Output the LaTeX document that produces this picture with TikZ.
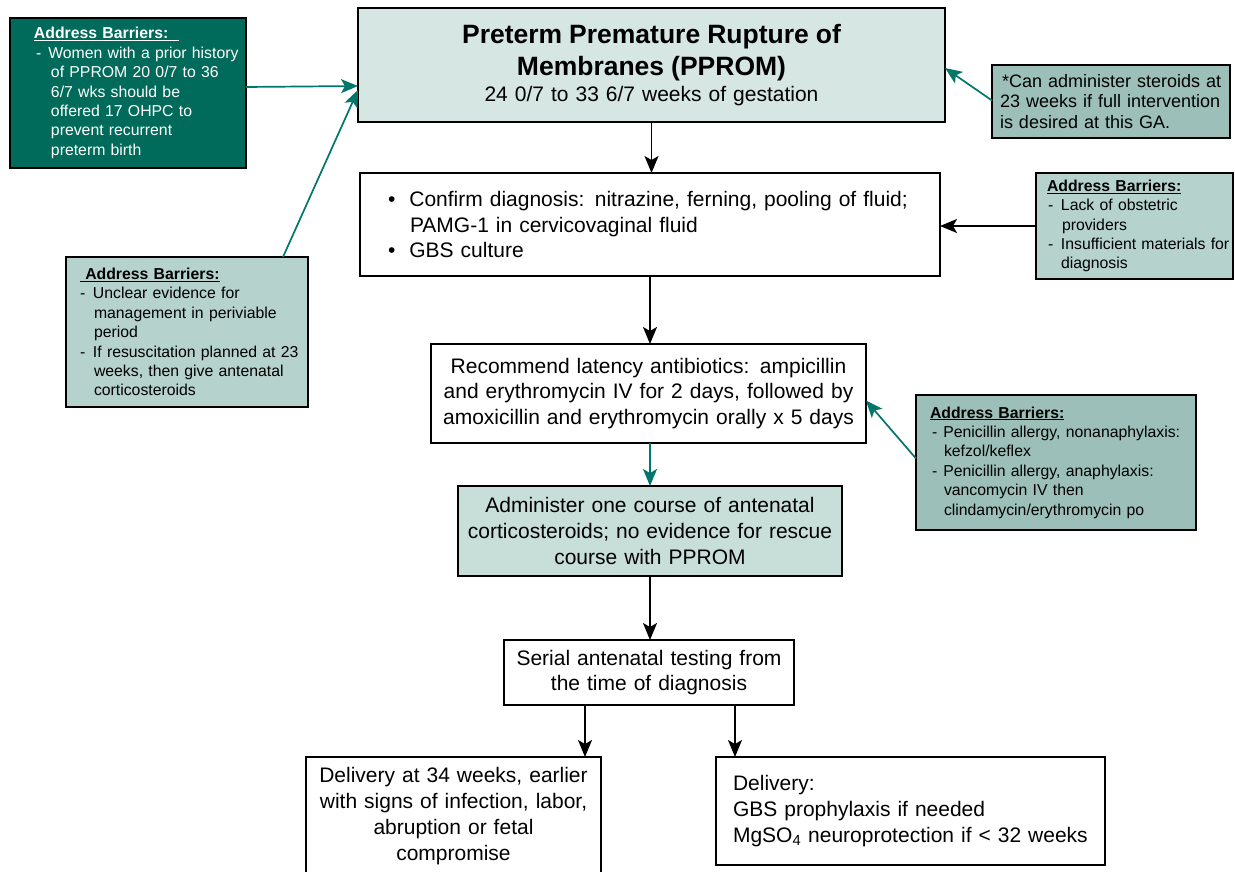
\documentclass[tikz,border=0pt]{standalone}
\usepackage{fontspec}
\setmainfont{Liberation Sans}
\usetikzlibrary{arrows.meta}
\definecolor{darkteal}{HTML}{006B5A}
\definecolor{arrteal}{HTML}{00776A}
\definecolor{palefill}{HTML}{D6E6E2}
\definecolor{lightfill}{HTML}{B5D3CC}
\definecolor{midfill}{HTML}{9CC0B9}
\definecolor{stepfill}{HTML}{C7DED9}
\newcommand\mainfs{\fontsize{21}{25.8}\selectfont}
\newcommand\titlefs{\fontsize{26.5}{32}\selectfont}
\newcommand\smallfs{\fontsize{15.8}{19.4}\selectfont}
\newcommand\notefs{\fontsize{18}{20.6}\selectfont}
\newcommand\hdr[1]{\underline{\textbf{#1}}}
\newcommand\li[1]{\mbox{#1}}
\begin{document}
\begin{tikzpicture}[x=1pt,y=-1pt,
  box/.style={draw=black,line width=2.2pt,inner sep=0pt,outer sep=0pt,anchor=north west},
  mainbox/.style={box,font=\mainfs,align=center},
  notebox/.style={box,align=left},
  arr/.style={line width=1.7pt,-{Stealth[length=17pt,width=14pt,inset=4pt]}},
  blackarr/.style={arr,draw=black},
  tealarr/.style={arr,draw=arrteal,fill=arrteal}]
\useasboundingbox (0,0) rectangle (1235,872);

% main flow
\node[mainbox,fill=palefill,minimum width=587pt,minimum height=114pt,text width=560pt] (main) at (358,8)
  {{\titlefs\bfseries Preterm Premature Rupture of\\Membranes (PPROM)\par}24 0/7 to 33 6/7 weeks of gestation};
\node[box,font=\mainfs,align=left,minimum width=580pt,minimum height=103pt,
  text width=524pt,inner xsep=28pt] (confirm) at (360,173)
  {\li{\textbullet\hspace*{14pt}Confirm diagnosis: nitrazine, ferning, pooling of fluid;}\\
   \li{\hspace*{22pt}PAMG-1 in cervicovaginal fluid}\\
   \li{\textbullet\hspace*{14pt}GBS culture}};
\node[mainbox,minimum width=435pt,minimum height=99pt,text width=430pt] (recommend) at (431,344)
  {Recommend latency antibiotics: ampicillin\\and erythromycin IV for 2 days, followed by\\amoxicillin and erythromycin orally x 5 days};
\node[mainbox,fill=stepfill,minimum width=384pt,minimum height=90pt,text width=380pt] (steroids) at (458,486)
  {Administer one course of antenatal\\corticosteroids; no evidence for rescue\\course with PPROM};
\node[mainbox,minimum width=290pt,minimum height=65pt,text width=286pt] (serial) at (504,640)
  {Serial antenatal testing from\\the time of diagnosis};
\node[mainbox,minimum width=295pt,minimum height=118pt,text width=290pt] (dleft) at (306,757)
  {Delivery at 34 weeks, earlier\\with signs of infection, labor,\\abruption or fetal\\compromise};
\node[box,font=\mainfs,align=left,minimum width=389pt,minimum height=108pt,
  text width=355pt,inner xsep=17pt] (dright) at (716,757)
  {Delivery:\\GBS prophylaxis if needed\\\li{MgSO\textsubscript{4} neuroprotection if < 32 weeks}};

% side notes
\node[notebox,fill=darkteal,text=white,font=\smallfs,minimum width=236pt,minimum height=150pt,
  text width=188pt,inner xsep=24pt] (tl) at (10,18)
  {\li{\hdr{Address Barriers:\ \ }}\\
   \li{\hspace*{2pt}-\hspace*{7pt}Women with a prior history}\\
   \li{\hspace*{17pt}of PPROM 20 0/7 to 36}\\
   \li{\hspace*{17pt}6/7 wks should be}\\
   \li{\hspace*{17pt}offered 17 OHPC to}\\
   \li{\hspace*{17pt}prevent recurrent}\\
   \li{\hspace*{17pt}preterm birth}};
\node[notebox,fill=lightfill,font=\smallfs,minimum width=242pt,minimum height=150pt,
  text width=214pt,inner xsep=14pt] (lb) at (66,257)
  {\li{\hdr{\ Address Barriers:}}\\
   \li{-\hspace*{7.7pt}Unclear evidence for}\\
   \li{\hspace*{14pt}management in periviable}\\
   \li{\hspace*{14pt}period}\\
   \li{-\hspace*{7.7pt}If resuscitation planned at 23}\\
   \li{\hspace*{14pt}weeks, then give antenatal}\\
   \li{\hspace*{14pt}corticosteroids}};
\node[notebox,fill=midfill,font=\notefs,minimum width=238pt,minimum height=73pt,
  text width=222pt,inner xsep=8pt] (note) at (992,65)
  {\li{\hspace*{2pt}*Can administer steroids at}\\
   \li{23 weeks if full intervention}\\
   \li{is desired at this GA.}};
\node[notebox,fill=lightfill,font=\smallfs,minimum width=197pt,minimum height=106pt,
  text width=175pt,inner xsep=11pt] (rb) at (1036,173)
  {\li{\hdr{Address Barriers:}}\\
   \li{\hspace*{1pt}-\hspace*{7.7pt}Lack of obstetric}\\
   \li{\hspace*{15pt}providers}\\
   \li{\hspace*{1pt}-\hspace*{7.7pt}Insufficient materials for}\\
   \li{\hspace*{14pt}diagnosis}};
\node[notebox,fill=midfill,font=\smallfs,minimum width=280pt,minimum height=135pt,
  text width=252pt,inner xsep=14pt] (rb3) at (916,395)
  {\li{\hdr{Address Barriers:}}\\
   \li{\hspace*{2pt}-\hspace*{6pt}Penicillin allergy, nonanaphylaxis:}\\
   \li{\hspace*{14pt}kefzol/keflex}\\
   \li{\hspace*{2pt}-\hspace*{6pt}Penicillin allergy, anaphylaxis:}\\
   \li{\hspace*{14pt}vancomycin IV then}\\
   \li{\hspace*{14pt}clindamycin/erythromycin po}\par\vspace*{4pt}};

% main flow connectors
\draw[blackarr] (main.south) -- (main.south |- confirm.north);
\draw[blackarr] (confirm.south) -- (confirm.south |- recommend.north);
\draw[tealarr] (steroids.north |- recommend.south) -- (steroids.north);
\draw[blackarr] (steroids.south) -- (steroids.south |- serial.north);
\draw[blackarr] ([xshift=-64pt]serial.south) -- ([xshift=-64pt]serial.south |- dleft.north);
\draw[blackarr] ([xshift=86pt]serial.south) -- ([xshift=86pt]serial.south |- dright.north);

% side connectors
\draw[tealarr] ([yshift=6pt]tl.east) -- ([yshift=-21pt]main.west);
\draw[tealarr] ([xshift=96pt]lb.north) -- ([yshift=-25pt]main.west);
\draw[tealarr] ([yshift=1pt]note.west) -- ([yshift=-3pt]main.east);
\draw[blackarr] (rb.west) -- (rb.west -| confirm.east);
\draw[tealarr] ([yshift=4pt]rb3.west) -- ([yshift=-7pt]recommend.east);
\end{tikzpicture}
\end{document}
